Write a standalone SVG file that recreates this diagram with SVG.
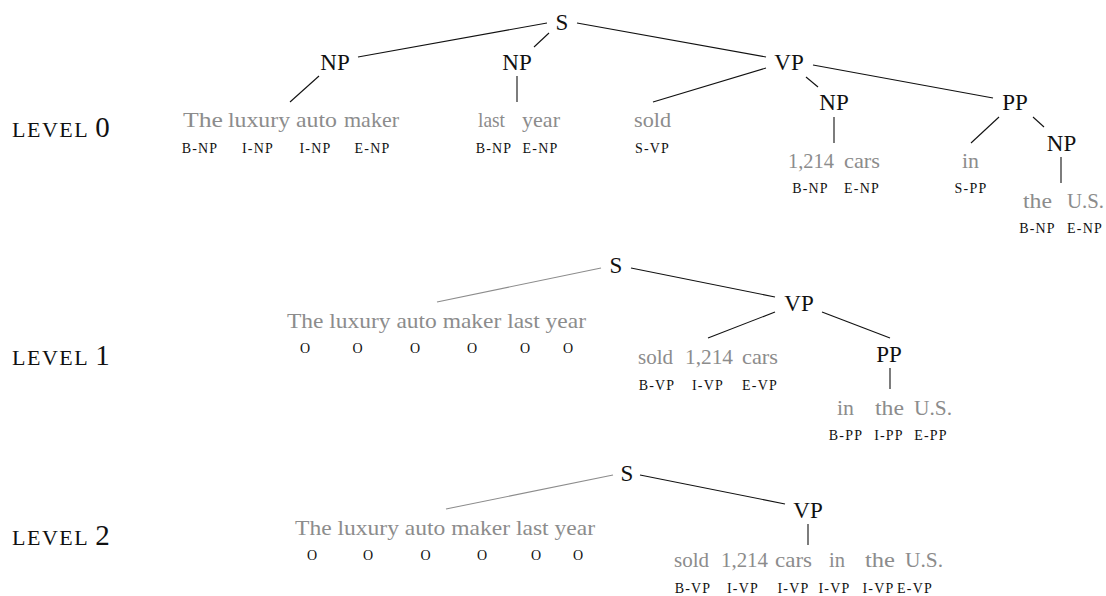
<svg xmlns="http://www.w3.org/2000/svg" width="1106" height="596" viewBox="0 0 1106 596">
<style>
text{font-family:"Liberation Serif","Times New Roman",serif}
.n{font-size:23px;fill:#111;text-anchor:middle}
.w{font-size:21px;fill:#8c8c8c}
.t{font-size:14px;fill:#111;text-anchor:middle;letter-spacing:1.2px}
.o{font-size:14px;fill:#111;text-anchor:middle}
.lv{font-size:22px;fill:#111;letter-spacing:1.5px}
.lv tspan{font-size:29px;letter-spacing:0}
.e line{stroke:#111;stroke-width:1.1}
.e line.g{stroke:#8c8c8c}
</style>
<rect width="1106" height="596" fill="#fff"/>
<g id="connectors" class="e">
<line x1="358" y1="57" x2="547" y2="23"/>
<line x1="549" y1="33" x2="534" y2="47"/>
<line x1="577" y1="23" x2="766" y2="57"/>
<line x1="319" y1="76" x2="290" y2="102"/>
<line x1="517" y1="76" x2="517" y2="102"/>
<line x1="766" y1="68" x2="653" y2="102"/>
<line x1="806" y1="77" x2="818" y2="87"/>
<line x1="834" y1="117" x2="834" y2="143"/>
<line x1="813" y1="65" x2="993" y2="98"/>
<line x1="999" y1="117" x2="971" y2="143"/>
<line x1="1033" y1="117" x2="1044" y2="127"/>
<line x1="1061" y1="157" x2="1061" y2="183"/>
<line class="g" x1="437" y1="302" x2="601" y2="268"/>
<line x1="631" y1="268" x2="775" y2="297"/>
<line x1="775" y1="312" x2="708" y2="338"/>
<line x1="822" y1="312" x2="890" y2="338"/>
<line x1="890" y1="368" x2="890" y2="389"/>
<line class="g" x1="446" y1="509" x2="613" y2="475"/>
<line x1="640" y1="475" x2="785" y2="504"/>
<line x1="808" y1="524" x2="808" y2="545"/>
</g>
<g id="labels">
<text class="lv" x="12" y="137">LEVEL <tspan>0</tspan></text>
<text class="lv" x="12" y="365">LEVEL <tspan>1</tspan></text>
<text class="lv" x="12" y="545">LEVEL <tspan>2</tspan></text>
</g>
<g id="level0">
<g id="l0-S"><text class="n" x="562" y="30">S</text></g>
<g id="l0-NP1"><text class="n" x="335" y="70">NP</text></g>
<g id="l0-NP2"><text class="n" x="517" y="70">NP</text></g>
<g id="l0-VP"><text class="n" x="789" y="70">VP</text></g>
<g id="l0-NP3"><text class="n" x="834" y="110">NP</text></g>
<g id="l0-PP"><text class="n" x="1015" y="110">PP</text></g>
<g id="l0-NP4"><text class="n" x="1061.5" y="151">NP</text></g>
<g id="l0-words1">
<text class="w" x="183" y="127" textLength="40" lengthAdjust="spacingAndGlyphs">The</text>
<text class="w" x="228" y="127" textLength="62" lengthAdjust="spacingAndGlyphs">luxury</text>
<text class="w" x="296" y="127" textLength="41" lengthAdjust="spacingAndGlyphs">auto</text>
<text class="w" x="344" y="127" textLength="55" lengthAdjust="spacingAndGlyphs">maker</text>
<text class="t" x="200" y="153">B-NP</text>
<text class="t" x="258" y="153">I-NP</text>
<text class="t" x="315.5" y="153">I-NP</text>
<text class="t" x="372.5" y="153">E-NP</text>
</g>
<g id="l0-words2">
<text class="w" x="478" y="127" textLength="27" lengthAdjust="spacingAndGlyphs">last</text>
<text class="w" x="522" y="127" textLength="38" lengthAdjust="spacingAndGlyphs">year</text>
<text class="t" x="494" y="153">B-NP</text>
<text class="t" x="540.5" y="153">E-NP</text>
</g>
<g id="l0-words3">
<text class="w" x="634" y="127" textLength="37" lengthAdjust="spacingAndGlyphs">sold</text>
<text class="t" x="652.5" y="153">S-VP</text>
</g>
<g id="l0-words4">
<text class="w" x="788" y="168" textLength="46" lengthAdjust="spacingAndGlyphs">1,214</text>
<text class="w" x="844" y="168" textLength="36" lengthAdjust="spacingAndGlyphs">cars</text>
<text class="t" x="810.5" y="193">B-NP</text>
<text class="t" x="862" y="193">E-NP</text>
</g>
<g id="l0-words5">
<text class="w" x="962" y="168" textLength="17" lengthAdjust="spacingAndGlyphs">in</text>
<text class="t" x="971" y="193">S-PP</text>
</g>
<g id="l0-words6">
<text class="w" x="1023" y="208" textLength="29" lengthAdjust="spacingAndGlyphs">the</text>
<text class="w" x="1067" y="208" textLength="37" lengthAdjust="spacingAndGlyphs">U.S.</text>
<text class="t" x="1037.5" y="233">B-NP</text>
<text class="t" x="1085" y="233">E-NP</text>
</g>
</g>
<g id="level1">
<g id="l1-S"><text class="n" x="616" y="273">S</text></g>
<g id="l1-VP"><text class="n" x="799" y="311">VP</text></g>
<g id="l1-PP"><text class="n" x="889" y="362">PP</text></g>
<g id="l1-words1">
<text class="w" x="287" y="328" textLength="299" lengthAdjust="spacingAndGlyphs">The luxury auto maker last year</text>
<text class="o" x="305" y="353">O</text>
<text class="o" x="357.5" y="353">O</text>
<text class="o" x="415" y="353">O</text>
<text class="o" x="472" y="353">O</text>
<text class="o" x="525" y="353">O</text>
<text class="o" x="568" y="353">O</text>
</g>
<g id="l1-words2">
<text class="w" x="638" y="364" textLength="35" lengthAdjust="spacingAndGlyphs">sold</text>
<text class="w" x="685" y="364" textLength="48" lengthAdjust="spacingAndGlyphs">1,214</text>
<text class="w" x="742" y="364" textLength="36" lengthAdjust="spacingAndGlyphs">cars</text>
<text class="t" x="657" y="390">B-VP</text>
<text class="t" x="708" y="390">I-VP</text>
<text class="t" x="760" y="390">E-VP</text>
</g>
<g id="l1-words3">
<text class="w" x="837" y="415" textLength="17" lengthAdjust="spacingAndGlyphs">in</text>
<text class="w" x="875" y="415" textLength="29" lengthAdjust="spacingAndGlyphs">the</text>
<text class="w" x="914" y="415" textLength="38" lengthAdjust="spacingAndGlyphs">U.S.</text>
<text class="t" x="846" y="440">B-PP</text>
<text class="t" x="889" y="440">I-PP</text>
<text class="t" x="931" y="440">E-PP</text>
</g>
</g>
<g id="level2">
<g id="l2-S"><text class="n" x="627" y="481">S</text></g>
<g id="l2-VP"><text class="n" x="808" y="518">VP</text></g>
<g id="l2-words1">
<text class="w" x="295" y="535" textLength="300" lengthAdjust="spacingAndGlyphs">The luxury auto maker last year</text>
<text class="o" x="312" y="560">O</text>
<text class="o" x="368" y="560">O</text>
<text class="o" x="425.5" y="560">O</text>
<text class="o" x="482" y="560">O</text>
<text class="o" x="536" y="560">O</text>
<text class="o" x="578" y="560">O</text>
</g>
<g id="l2-words2">
<text class="w" x="674" y="567" textLength="35" lengthAdjust="spacingAndGlyphs">sold</text>
<text class="w" x="721" y="567" textLength="47" lengthAdjust="spacingAndGlyphs">1,214</text>
<text class="w" x="775" y="567" textLength="37" lengthAdjust="spacingAndGlyphs">cars</text>
<text class="w" x="829" y="567" textLength="16" lengthAdjust="spacingAndGlyphs">in</text>
<text class="w" x="865" y="567" textLength="30" lengthAdjust="spacingAndGlyphs">the</text>
<text class="w" x="905" y="567" textLength="38" lengthAdjust="spacingAndGlyphs">U.S.</text>
<text class="t" x="693" y="593">B-VP</text>
<text class="t" x="743" y="593">I-VP</text>
<text class="t" x="793.5" y="593">I-VP</text>
<text class="t" x="834.5" y="593">I-VP</text>
<text class="t" x="878.5" y="593">I-VP</text>
<text class="t" x="915" y="593">E-VP</text>
</g>
</g>
</svg>
